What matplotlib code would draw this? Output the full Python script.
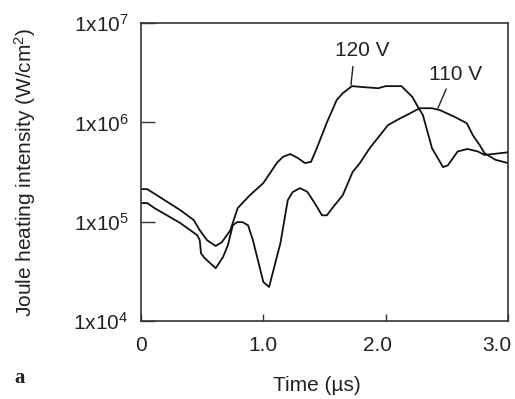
import math
import matplotlib
matplotlib.use("Agg")
import matplotlib.pyplot as plt
from matplotlib.ticker import FixedLocator, FuncFormatter, NullLocator
from matplotlib.transforms import ScaledTranslation

plt.rcParams['font.family'] = ['Liberation Sans', 'DejaVu Sans']
plt.rcParams['mathtext.fontset'] = 'custom'
plt.rcParams['mathtext.rm'] = 'Liberation Sans'
plt.rcParams['mathtext.it'] = 'Liberation Sans:italic'
plt.rcParams['mathtext.bf'] = 'Liberation Sans:bold'

# 120 V curve
t120 = [0.01, 0.05, 0.32, 0.43, 0.48, 0.54, 0.61, 0.66, 0.73, 0.79, 0.89, 1.00,
        1.11, 1.16, 1.22, 1.28, 1.34, 1.39, 1.44, 1.52, 1.60, 1.65, 1.725, 1.815,
        1.94, 2.00, 2.13, 2.22, 2.265, 2.305, 2.38, 2.47, 2.51, 2.59, 2.67, 2.755,
        2.81, 3.0]
j120 = [2.13e5, 2.13e5, 1.31e5, 1.04e5, 8.2e4, 6.5e4, 5.7e4, 6.2e4, 8.2e4, 1.37e5,
        1.85e5, 2.45e5, 3.9e5, 4.5e5, 4.8e5, 4.4e5, 3.9e5, 4.0e5, 5.6e5, 1.0e6,
        1.68e6, 1.97e6, 2.32e6, 2.27e6, 2.21e6, 2.32e6, 2.32e6, 1.8e6, 1.43e6,
        1.19e6, 5.5e5, 3.55e5, 3.7e5, 5.1e5, 5.4e5, 5.1e5, 4.7e5, 5.0e5]

# 110 V curve
t110 = [0.01, 0.05, 0.11, 0.32, 0.46, 0.48, 0.49, 0.52, 0.61, 0.67, 0.71, 0.75,
        0.785, 0.83, 0.875, 0.915, 1.00, 1.047, 1.14, 1.20, 1.24, 1.30, 1.36, 1.42,
        1.48, 1.52, 1.57, 1.65, 1.73, 1.79, 1.87, 2.02, 2.12, 2.175, 2.28, 2.38,
        2.445, 2.57, 2.665, 2.715, 2.77, 2.81, 2.90, 3.0]
j110 = [1.54e5, 1.54e5, 1.37e5, 9.7e4, 7.3e4, 6.5e4, 4.8e4, 4.3e4, 3.4e4, 4.4e4,
        5.8e4, 9.2e4, 9.9e4, 9.9e4, 9.2e4, 6.5e4, 2.47e4, 2.2e4, 6.1e4, 1.65e5,
        1.99e5, 2.18e5, 2.0e5, 1.54e5, 1.16e5, 1.16e5, 1.4e5, 1.85e5, 3.16e5,
        3.9e5, 5.5e5, 9.4e5, 1.1e6, 1.19e6, 1.39e6, 1.39e6, 1.33e6, 1.13e6, 9.8e5,
        7.4e5, 5.9e5, 4.9e5, 4.2e5, 3.9e5]

xticks = [0, 1.0, 2.0, 3.0]
xticklabels = ['0', '1.0', '2.0', '3.0']
yticks = [1e4, 1e5, 1e6, 1e7]

fig = plt.figure(figsize=(5.15, 3.99), dpi=100)
ax = fig.add_axes([0.274, 0.1955, 0.712, 0.7465])

ax.plot(t120, j120, color='#111111', lw=1.3)
ax.plot(t110, j110, color='#111111', lw=1.3)

ax.set_yscale('log')
ax.set_xlim(0, 3.0)
ax.set_ylim(1e4, 1e7)

ax.xaxis.set_major_locator(FixedLocator(xticks))
ax.set_xticklabels(xticklabels)
ax.yaxis.set_major_locator(FixedLocator(yticks))
ax.yaxis.set_minor_locator(NullLocator())
ax.yaxis.set_major_formatter(FuncFormatter(
    lambda v, p: r'1x10$^{%d}$' % round(math.log10(v))))

for s in ax.spines.values():
    s.set_linewidth(1.2)
    s.set_color('#333333')

ax.tick_params(axis='y', direction='in', length=10, width=1.0, color='#333333',
               labelsize=15, pad=9, labelcolor='#222222')
ax.tick_params(axis='x', direction='in', length=5, width=1.0, color='#333333',
               labelsize=15, pad=11, labelcolor='#222222')

# small horizontal shifts of the last x tick labels, as in the reference
shifts_px = [0, 0, -8, -11]
for lab, dx in zip(ax.get_xticklabels(), shifts_px):
    lab.set_transform(lab.get_transform() +
                      ScaledTranslation(dx / 100, 0, fig.dpi_scale_trans))

ax.set_xlabel('Time (\u00b5s)', fontsize=15, color='#222222')
ax.set_ylabel('Joule heating intensity (W/cm$^{2}$)', fontsize=15, color='#222222')
ax.xaxis.set_label_coords(0.48, -0.215)
ax.xaxis.label.set_va('center')
ax.yaxis.set_label_coords(-0.316, 0.5)
ax.yaxis.label.set_va('center')

# annotations
ax.annotate('120 V', xy=(1.717, 2.38e6), xytext=(1.81, 5.35e6),
            fontsize=15, ha='center', va='center', color='#222222',
            arrowprops=dict(arrowstyle='-', color='#222222', lw=1.0,
                            relpos=(0.34, 0.0), shrinkA=3, shrinkB=0))
ax.annotate('110 V', xy=(2.428, 1.39e6), xytext=(2.576, 3.06e6),
            fontsize=15, ha='center', va='center', color='#222222',
            arrowprops=dict(arrowstyle='-', color='#222222', lw=1.0,
                            relpos=(0.36, 0.0), shrinkA=2, shrinkB=0))

fig.text(20 / 515, 1 - 378 / 399, 'a', fontsize=15, fontweight='bold',
         family='Liberation Serif', ha='center', va='center', color='#222222')

fig.savefig('out.png', dpi=100)
